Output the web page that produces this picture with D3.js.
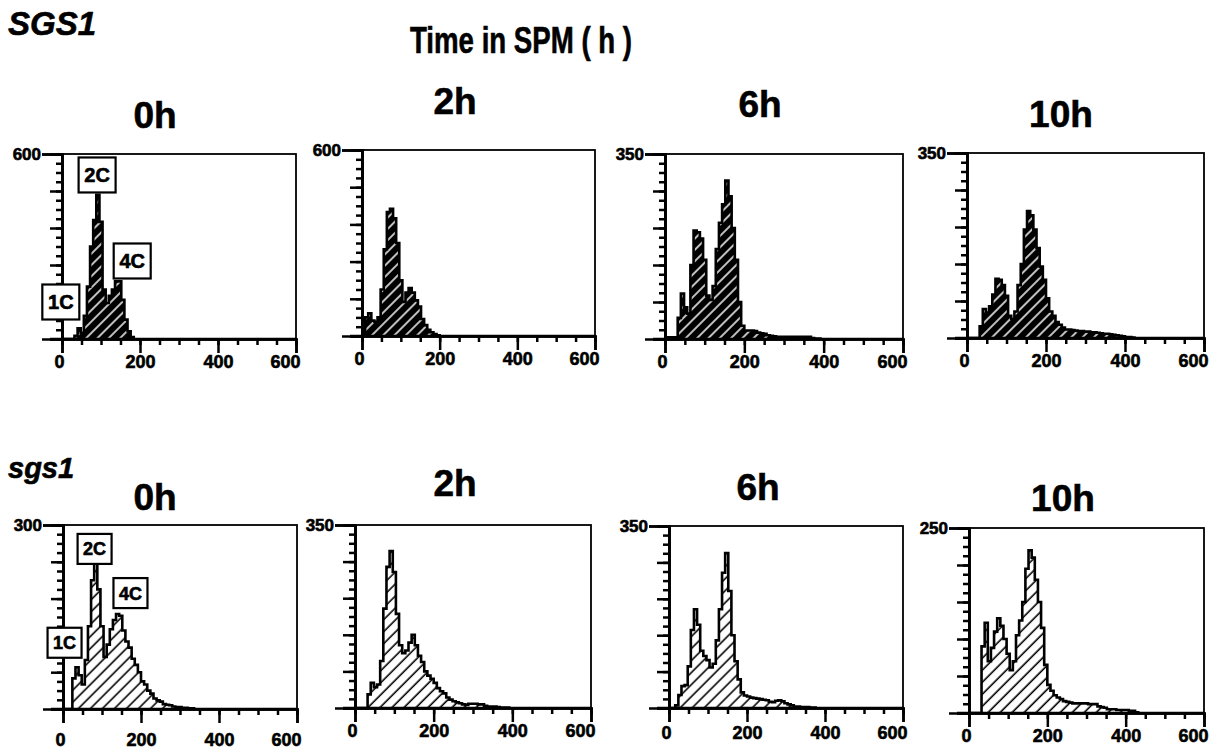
<!DOCTYPE html>
<html><head><meta charset="utf-8">
<script src="https://cdn.jsdelivr.net/npm/d3@7"></script>
<style>
body{margin:0;background:#fff}
svg{display:block}
text{font-family:"Liberation Sans",Arial,sans-serif;font-weight:bold;fill:#000;stroke:#000;stroke-width:0.6px}
</style>
</head><body>
<svg id="chart" width="1214" height="750"></svg>
<script>
// ---------------- DATA ----------------
const binWidth = 8;                     // DNA-content channel width of each histogram bin
const timeLabels = ["0h", "2h", "6h", "10h"];
const rowLabels = ["SGS1", "sgs1"];
const headerTitle = "Time in SPM ( h )";
const xTickValues = [0, 200, 400, 600];
const xMinorStep = 50;
const yMaxTop = [600, 600, 350, 350];
const yMaxBottom = [300, 350, 350, 250];
const peakLabels = ["1C", "2C", "4C"];

// Cell counts per bin (bin i covers [8i, 8i+8))
const SGS1_0h = [0,0,0,0,10,35,20,75,170,300,386,468,380,160,117,140,160,187,187,127,63,25,6];
const SGS1_2h = [0,60,73,50,46,60,150,280,400,410,380,300,180,110,140,155,140,115,95,55,35,20,12,6,2];
const SGS1_6h = [3,3,3,3,40,86,60,48,140,205,202,190,150,82,74,100,170,220,255,300,270,210,150,70,25,16,16,16,15,12,11,10,7,6,5,4,4,4,4,4,4,4,4,4,4,4,2,1,1];
const SGS1_10h = [0,0,0,0,22,55,48,60,82,112,110,100,80,42,36,50,100,140,205,240,232,205,170,135,110,75,50,42,30,25,20,16,16,15,14,13,13,12,12,11,11,10,9,8,8,7,6,5,4,3,2,2,1];
const sgs1_0h = [0,0,0,50,68,55,40,80,135,210,238,195,135,85,105,130,145,155,152,128,110,100,82,72,60,45,40,30,25,17,14,12,8,7,6,4,3,3,2,2,1,1];
const sgs1_2h = [0,0,0,0,26,48,40,45,90,190,270,300,260,180,120,105,110,125,140,120,100,88,70,62,56,48,38,32,28,20,16,13,11,9,7,6,8,8,8,7,7,4,3,3,3,2,1,1,1];
const sgs1_6h = [0,0,5,25,42,44,80,150,190,160,110,100,92,78,85,130,190,260,298,225,140,90,55,30,24,22,20,19,18,17,16,15,12,11,14,15,13,9,7,5,3,3,2,2,2,1,1];
const sgs1_10h = [0,0,0,0,90,122,70,88,110,128,118,100,80,58,70,105,125,150,195,220,210,180,150,115,65,38,30,24,21,19,16,15,14,13,13,13,13,13,12,12,12,9,8,7,5,5,5,4,4,4,4,3,3,1];

const seriesTop = [SGS1_0h, SGS1_2h, SGS1_6h, SGS1_10h];
const seriesBottom = [sgs1_0h, sgs1_2h, sgs1_6h, sgs1_10h];
// peak label anchor positions in data units (x channel, y count) for the 0h panels
const peakPosTop = [[-3,120],[90,532],[180,253]];
const peakPosBottom = [[4,108],[81,261],[173,189]];

// ---------------- LAYOUT ----------------
const layoutTop = [
  {x0:62,  x1:296,  yT:154, yB:339, labelPad:2, title:[155,128]},
  {x0:362, x1:595,  yT:150, yB:336, labelPad:2, title:[455,114]},
  {x0:665, x1:903,  yT:154, yB:339, labelPad:2, title:[760,117]},
  {x0:967, x1:1204, yT:153, yB:338, labelPad:2, title:[1061,127]}
];
const layoutBottom = [
  {x0:63,  x1:297,  yT:525, yB:709, labelPad:10, title:[155,510]},
  {x0:355, x1:591,  yT:525, yB:708, labelPad:2,  title:[455,496]},
  {x0:669, x1:903,  yT:526, yB:708, labelPad:4,  title:[758,500]},
  {x0:969, x1:1204, yT:528, yB:713, labelPad:2,  title:[1063,511]}
];

const svg = d3.select("#chart");
const defs = svg.append("defs");

const pd = defs.append("pattern").attr("id","hatchDark").attr("patternUnits","userSpaceOnUse")
  .attr("width",8).attr("height",8).attr("patternTransform","rotate(45)");
pd.append("rect").attr("width",8).attr("height",8).attr("fill","#000");
pd.append("line").attr("x1",4).attr("x2",4).attr("y1",0).attr("y2",8).attr("stroke","#fff").attr("stroke-width",1.5);

const pl = defs.append("pattern").attr("id","hatchLight").attr("patternUnits","userSpaceOnUse")
  .attr("width",8.5).attr("height",8.5).attr("patternTransform","rotate(45)");
pl.append("rect").attr("width",8.5).attr("height",8.5).attr("fill","#fff");
pl.append("line").attr("x1",4).attr("x2",4).attr("y1",0).attr("y2",8.5).attr("stroke","#000").attr("stroke-width",1.6);

// titles
svg.append("text").attr("x",8).attr("y",35).attr("font-size",33).attr("font-style","italic").text(rowLabels[0]);
svg.append("text").attr("x",8).attr("y",478).attr("font-size",29).attr("font-style","italic").text(rowLabels[1]);
svg.append("text").attr("x",521).attr("y",53).attr("font-size",36).attr("text-anchor","middle")
  .attr("textLength",222).attr("lengthAdjust","spacingAndGlyphs").text(headerTitle);

function drawPanel(L, counts, yMax, fillId, time, peaks) {
  const g = svg.append("g");
  const x = d3.scaleLinear().domain([0,600]).range([L.x0, L.x1]);
  const y = d3.scaleLinear().domain([0,yMax]).range([L.yB, L.yT]);

  const pts = counts.map((c,i)=>({x:i*binWidth, y:c}));
  pts.push({x:counts.length*binWidth, y:0});

  const area = d3.area().x(d=>x(d.x)).y0(L.yB).y1(d=>y(d.y)).curve(d3.curveStepAfter);
  const line = d3.line().x(d=>x(d.x)).y(d=>y(d.y)).curve(d3.curveStepAfter);
  g.append("path").attr("d",area(pts)).attr("fill",`url(#${fillId})`);
  g.append("path").attr("d",line(pts)).attr("fill","none").attr("stroke","#000").attr("stroke-width",2.6).attr("stroke-linejoin","miter");

  // frame
  g.append("rect").attr("x",L.x0).attr("y",L.yT).attr("width",L.x1-L.x0).attr("height",L.yB-L.yT)
    .attr("fill","none").attr("stroke","#000").attr("stroke-width",1.8);

  // y axis minor / major ticks
  const minors = d3.range(0,21).map(i=>yMax*i/20);
  const majors = d3.range(0,5).map(i=>yMax*i/5);
  const ayMin = g.append("g").attr("transform",`translate(${L.x0},0)`)
    .call(d3.axisLeft(y).tickValues(minors).tickSize(6).tickFormat(""));
  const ayMaj = g.append("g").attr("transform",`translate(${L.x0},0)`)
    .call(d3.axisLeft(y).tickValues(majors).tickSize(12).tickFormat(""));
  const ayTop = g.append("g").attr("transform",`translate(${L.x0},0)`)
    .call(d3.axisLeft(y).tickValues([yMax]).tickSize(20).tickPadding(1).tickFormat(d3.format("d")));
  [ayMin,ayMaj,ayTop].forEach(a=>{
    a.select(".domain").attr("stroke-width",2.5);
    a.selectAll(".tick line").attr("stroke-width",2.5);
  });
  ayTop.selectAll("text").attr("font-size",17).attr("font-family","Liberation Sans, Arial, sans-serif").attr("font-weight","bold");

  // x axis
  const axMin = g.append("g").attr("transform",`translate(0,${L.yB})`)
    .call(d3.axisBottom(x).tickValues(d3.range(0,601,xMinorStep)).tickSize(6).tickFormat(""));
  const axMaj = g.append("g").attr("transform",`translate(0,${L.yB})`)
    .call(d3.axisBottom(x).tickValues(xTickValues).tickSize(14).tickPadding(L.labelPad).tickFormat(d3.format("d")));
  [axMin,axMaj].forEach(a=>{
    a.select(".domain").attr("stroke-width",2.5);
    a.selectAll(".tick line").attr("stroke-width",2.5);
  });
  axMaj.selectAll("text").attr("font-size",18).attr("font-family","Liberation Sans, Arial, sans-serif").attr("font-weight","bold");
  axMaj.selectAll(".tick").filter(d=>d===600).select("text").attr("text-anchor","end").attr("x",4);
  axMaj.selectAll(".tick").filter(d=>d===0).select("text").attr("x",-3);
  // extend bottom axis line left to meet y ticks
  g.append("line").attr("x1",L.x0-12).attr("x2",L.x1).attr("y1",L.yB).attr("y2",L.yB).attr("stroke","#000").attr("stroke-width",2.5);

  // time label
  g.append("text").attr("x",L.title[0]).attr("y",L.title[1]).attr("font-size",37).attr("text-anchor","middle").text(time);

  if (peaks) {
    peaks.pos.forEach((p,i)=>{
      const cx = x(p[0]), cy = y(p[1]);
      g.append("rect").attr("x",cx-peaks.w/2).attr("y",cy-peaks.h/2).attr("width",peaks.w).attr("height",peaks.h)
        .attr("fill","#fff").attr("stroke","#000").attr("stroke-width",2.2);
      g.append("text").attr("x",cx).attr("y",cy+peaks.fs*0.36).attr("font-size",peaks.fs).attr("text-anchor","middle").text(peakLabels[i]);
    });
  }
}

layoutTop.forEach((L,i)=>drawPanel(L, seriesTop[i], yMaxTop[i], "hatchDark", timeLabels[i],
  i===0 ? {pos:peakPosTop, w:37, h:35, fs:20} : null));
layoutBottom.forEach((L,i)=>drawPanel(L, seriesBottom[i], yMaxBottom[i], "hatchLight", timeLabels[i],
  i===0 ? {pos:peakPosBottom, w:34, h:30, fs:18} : null));
</script>
</body></html>
